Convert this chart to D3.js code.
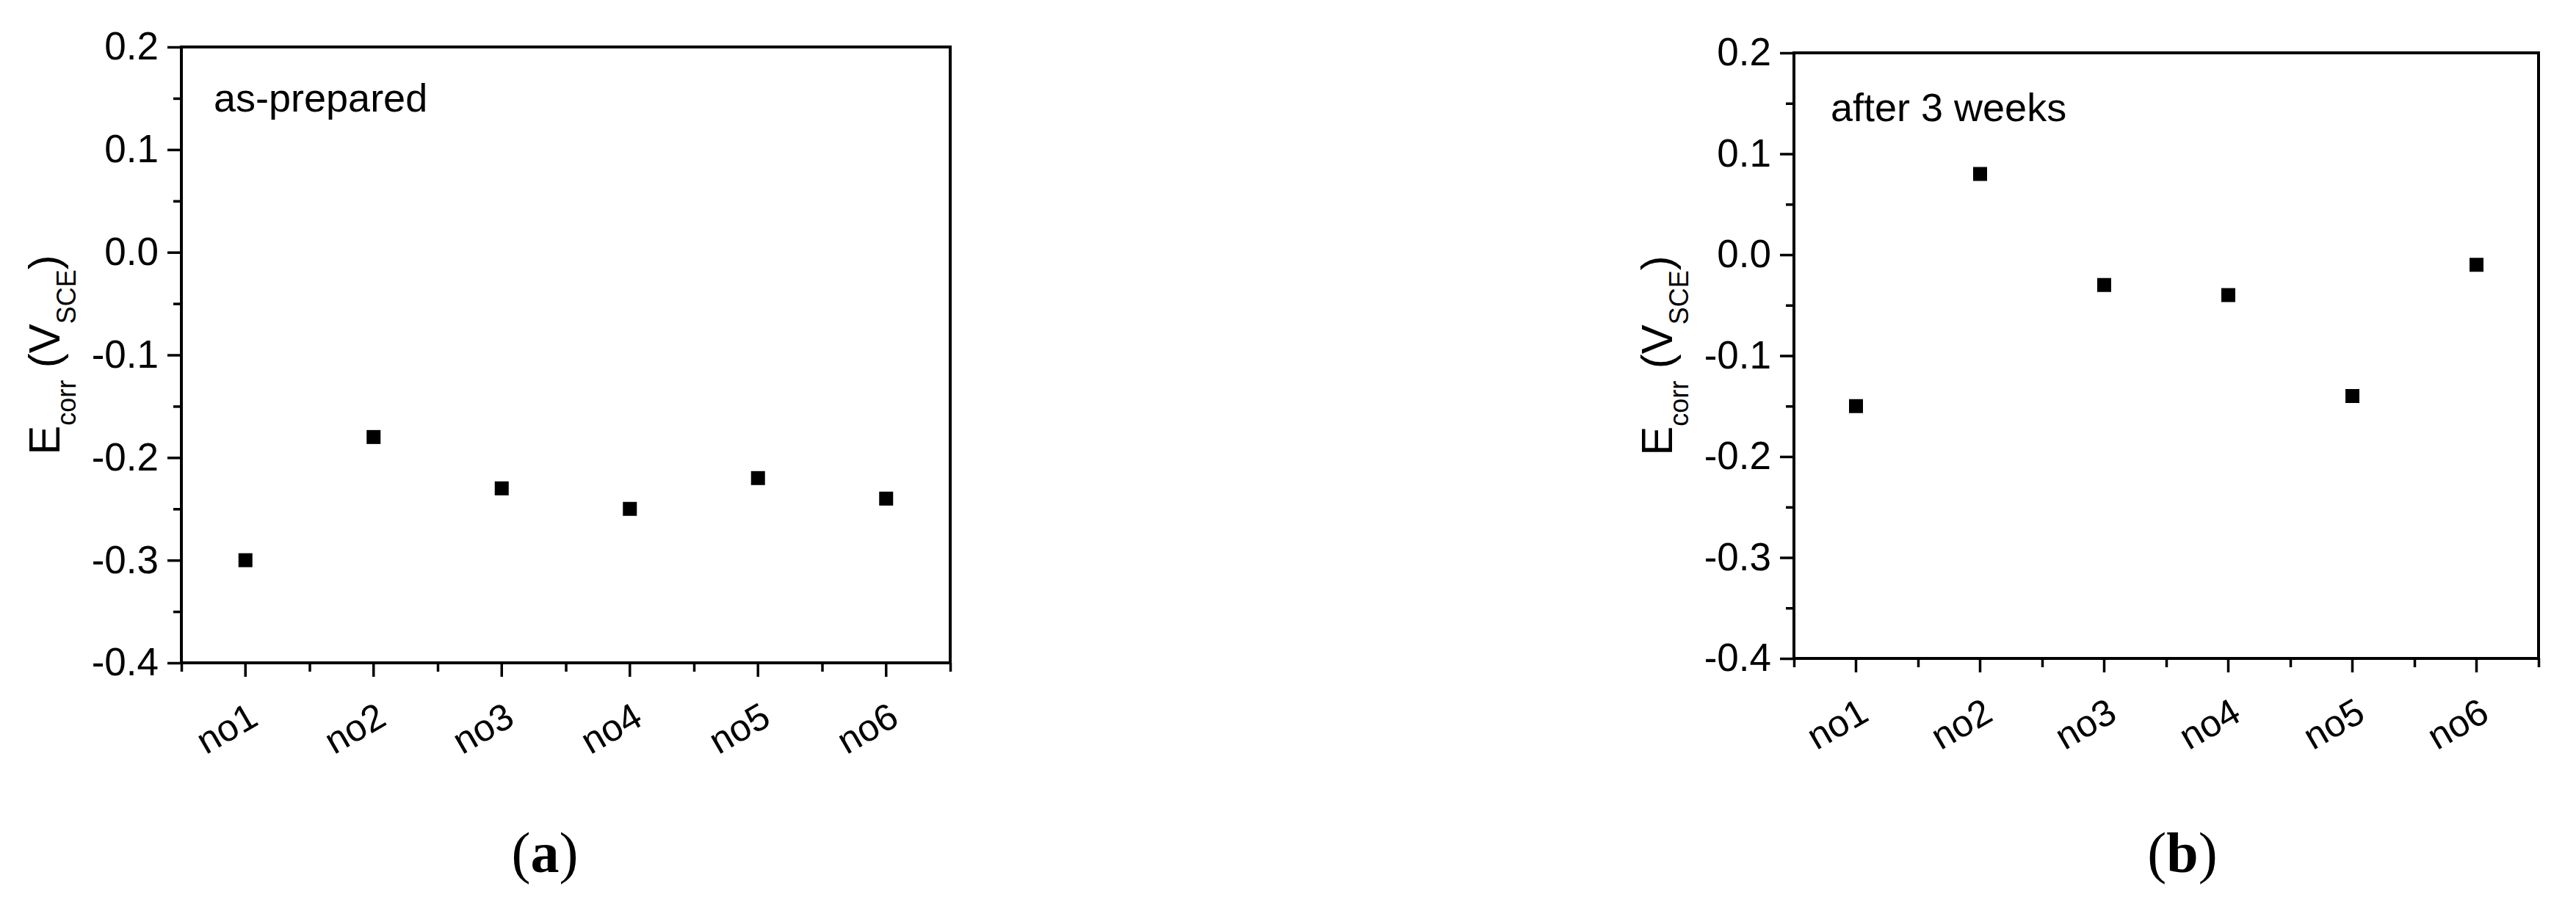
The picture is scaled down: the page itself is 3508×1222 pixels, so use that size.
<!DOCTYPE html>
<html>
<head>
<meta charset="utf-8">
<script src="https://cdn.jsdelivr.net/npm/d3@7"></script>
<style>
  body { margin: 0; background: #fff; }
  svg { display: block; }
  .tick text { font-family: "Liberation Sans", Arial, sans-serif; }
</style>
</head>
<body>
<svg id="chart"></svg>
<script>
// data
var samples = ["no1", "no2", "no3", "no4", "no5", "no6"];
var asPrepared = [-0.30, -0.18, -0.23, -0.25, -0.22, -0.24];
var after3Weeks = [-0.15, 0.08, -0.03, -0.04, -0.14, -0.01];
var yTicks = [0.2, 0.1, 0.0, -0.1, -0.2, -0.3, -0.4];
var yDomain = [-0.4, 0.2];

var width = 3508, height = 1222;
var svg = d3.select("#chart").attr("width", width).attr("height", height);

var panels = [
  { values: asPrepared, note: "as-prepared", tag: "a",
    x0: 247, x1: 1294, y0: 64, y1: 903, noteX: 44, noteY: 88, tagX: 742 },
  { values: after3Weeks, note: "after 3 weeks", tag: "b",
    x0: 2443, x1: 3457, y0: 72, y1: 897, noteX: 50, noteY: 93, tagX: 2972 }
];

var font = "Liberation Sans, Arial, sans-serif";

function drawPanel(p) {
  var x = d3.scaleBand().domain(samples).range([p.x0, p.x1]);
  var xMinor = d3.scaleLinear().domain([0, samples.length]).range([p.x0, p.x1]);
  var y = d3.scaleLinear().domain(yDomain).range([p.y1, p.y0]);

  var g = svg.append("g");

  // minor ticks on x (band edges)
  g.append("g")
    .attr("transform", "translate(0," + p.y1 + ")")
    .call(d3.axisBottom(xMinor).tickValues(d3.range(0, samples.length + 1)).tickSize(12).tickSizeOuter(0).tickFormat(""))
    .call(function(a) { a.select(".domain").remove(); });

  // major ticks + labels on x
  var xa = g.append("g")
    .attr("transform", "translate(0," + p.y1 + ")")
    .call(d3.axisBottom(x).tickSize(19).tickSizeOuter(0));
  xa.select(".domain").remove();
  xa.selectAll("text")
    .attr("font-size", 51)
    .attr("text-anchor", "end")
    .attr("dy", null)
    .attr("x", 20)
    .attr("y", 83)
    .attr("transform", "rotate(-30,20,83)");

  // minor ticks on y
  var minor = y.ticks(12).filter(function(v) {
    return !yTicks.some(function(t) { return Math.abs(t - v) < 1e-6; });
  });
  g.append("g")
    .attr("transform", "translate(" + p.x0 + ",0)")
    .call(d3.axisLeft(y).tickValues(minor).tickSize(11).tickSizeOuter(0).tickFormat(""))
    .call(function(a) { a.select(".domain").remove(); });

  // major ticks + labels on y
  var ya = g.append("g")
    .attr("transform", "translate(" + p.x0 + ",0)")
    .call(d3.axisLeft(y).tickValues(yTicks).tickSize(19).tickSizeOuter(0).tickPadding(12).tickFormat(d3.format(".1f")));
  ya.select(".domain").remove();
  ya.selectAll("text").attr("font-size", 53).text(function(d) { return d3.format(".1f")(d).replace("−", "-"); });

  g.selectAll(".tick line").attr("stroke", "#000").attr("stroke-width", 3.5);

  // frame
  g.append("rect")
    .attr("x", p.x0).attr("y", p.y0)
    .attr("width", p.x1 - p.x0).attr("height", p.y1 - p.y0)
    .attr("fill", "none").attr("stroke", "#000").attr("stroke-width", 4);

  // points
  g.selectAll("rect.pt").data(p.values).enter().append("rect")
    .attr("class", "pt")
    .attr("x", function(d, i) { return x(samples[i]) + x.bandwidth() / 2 - 9.5; })
    .attr("y", function(d) { return y(d) - 9.5; })
    .attr("width", 19).attr("height", 19)
    .attr("fill", "#000");

  // note inside the plot
  g.append("text")
    .attr("x", p.x0 + p.noteX).attr("y", p.y0 + p.noteY)
    .attr("font-family", font).attr("font-size", 54)
    .text(p.note);

  // y-axis title
  var yt = g.append("text")
    .attr("transform", "translate(" + (p.x0 - 166) + "," + ((p.y0 + p.y1) / 2) + ") rotate(-90)")
    .attr("text-anchor", "middle")
    .attr("font-family", font).attr("font-size", 60);
  yt.append("tspan").text("E");
  yt.append("tspan").attr("font-size", 36).attr("dy", 22).text("corr");
  yt.append("tspan").attr("dy", -22).text(" (V");
  yt.append("tspan").attr("font-size", 36).attr("dy", 22).text("SCE");
  yt.append("tspan").attr("dy", -22).text(")");

  // panel tag
  var tg = g.append("text")
    .attr("x", p.tagX).attr("y", 1188)
    .attr("text-anchor", "middle")
    .attr("font-family", "Liberation Serif, Times New Roman, serif").attr("font-size", 78);
  tg.append("tspan").text("(");
  tg.append("tspan").attr("font-weight", "bold").text(p.tag);
  tg.append("tspan").text(")");
}

panels.forEach(drawPanel);
</script>
</body>
</html>
